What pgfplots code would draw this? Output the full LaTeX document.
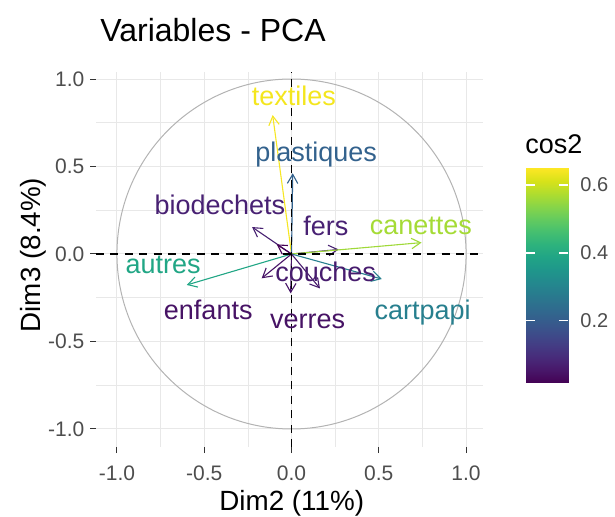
\documentclass[border=0pt]{standalone}
\usepackage{fontspec}
\setmainfont{Liberation Sans}
\usepackage{pgfplots}
\usepackage{pgfplotstable}
\pgfplotsset{compat=1.18}
\usepgfplotslibrary{colormaps}
\usetikzlibrary{arrows.meta,calc}
\definecolor{grey30}{RGB}{77,77,77}
\definecolor{grey20}{RGB}{51,51,51}
\definecolor{grey70}{RGB}{179,179,179}
\definecolor{gridc}{RGB}{232,232,232}
\definecolor{cTex}{HTML}{F4E61E}
\definecolor{cCan}{HTML}{A5DB36}
\definecolor{cAut}{HTML}{21A685}
\definecolor{cCar}{HTML}{277F8E}
\definecolor{cPla}{HTML}{33628D}
\definecolor{cBio}{HTML}{482173}
\definecolor{cFer}{HTML}{482173}
\definecolor{cCou}{HTML}{471C6E}
\definecolor{cVer}{HTML}{471365}
\definecolor{cEnf}{HTML}{471365}

\pgfplotstableread{
lab x y c o
textiles -0.108 0.794 0.642 0
plastiques 0.007 0.461 0.213 0
biodechets -0.226 0.154 0.075 0
fers 0.270 0.026 0.074 0
canettes 0.745 0.065 0.559 0
autres -0.600 -0.177 0.391 0
cartpapi 0.517 -0.143 0.288 0
enfants -0.171 -0.139 0.049 0
verres -0.005 -0.225 0.051 0
couches 0.163 -0.197 0.065 0
autre2 -0.085 0.055 0.010 0
}\arrtab

\pgfplotsset{lbl/.style={draw=none, mark=none, point meta=explicit symbolic, nodes near coords,
  nodes near coords style={anchor=base, inner sep=0pt, font=\fontsize{13.5}{16}\selectfont, text=#1}}}

\begin{document}
\begin{tikzpicture}
\useasboundingbox (0,0) rectangle (307.5pt,258pt);
\begin{axis}[
  at={(48pt,34.5pt)}, anchor=south west,
  scale only axis, width=193.5pt, height=187.5pt,
  xmin=-1.12, xmax=1.097, ymin=-1.103, ymax=1.04,
  xtick={-1,-0.5,0,0.5,1}, ytick={-1,-0.5,0,0.5,1},
  xticklabels={-1.0,-0.5,0.0,0.5,1.0}, yticklabels={-1.0,-0.5,0.0,0.5,1.0},
  minor xtick={-0.75,-0.25,0.25,0.75}, minor ytick={-0.75,-0.25,0.25,0.75},
  grid=both,
  major grid style={draw=gridc, line width=0.5pt},
  minor grid style={draw=gridc, line width=0.35pt},
  axis line style={draw=none},
  tick pos=left, tick align=outside,
  major tick length=3pt, minor tick length=0pt,
  tick style={draw=grey20, line width=0.5pt},
  ticklabel style={font=\fontsize{10.5}{12}\selectfont, text=grey30, inner sep=0pt},
  xticklabel style={anchor=base, yshift=-13.6pt},
  yticklabel style={anchor=east, xshift=-2.6pt},
  title={Variables - PCA},
  title style={at={(axis description cs:0.0103,1.081)}, anchor=base west, yshift=-6pt, inner sep=0pt, font=\fontsize{16}{19}\selectfont},
  xlabel={Dim2 (11\%)}, ylabel={Dim3 (8.4\%)},
  xlabel style={at={(axis description cs:0.5057,-0.170)}, anchor=base, inner sep=0pt, font=\fontsize{13.9}{16}\selectfont},
  ylabel style={at={(axis description cs:-0.1447,0.512)}, anchor=base, inner sep=0pt, font=\fontsize{13.9}{16}\selectfont},
  colormap/viridis,
  point meta min=0.018, point meta max=0.649,
]
\draw[grey70, line width=0.5pt] (axis cs:0,0) circle[radius=1];
\addplot[quiver={u=\thisrow{x}, v=\thisrow{y}, colored=mapped color},
  point meta=\thisrow{c}, line width=0.55pt,
  -{Straight Barb[length=4.5pt,width=5.2pt]}] table[x=o, y=o] {\arrtab};
\addplot[lbl=cTex] coordinates {(0.014,0.851) [textiles]};
\addplot[lbl=cPla] coordinates {(0.141,0.527) [plastiques]};
\addplot[lbl=cBio] coordinates {(-0.410,0.223) [biodechets]};
\addplot[lbl=cFer] coordinates {(0.197,0.103) [fers]};
\addplot[lbl=cCan] coordinates {(0.741,0.109) [canettes]};
\addplot[lbl=cAut] coordinates {(-0.736,-0.114) [autres]};
\addplot[lbl=cCou] coordinates {(0.195,-0.160) [couches]};
\addplot[lbl=cEnf] coordinates {(-0.477,-0.377) [enfants]};
\addplot[lbl=cVer] coordinates {(0.092,-0.425) [verres]};
\addplot[lbl=cCar] coordinates {(0.751,-0.377) [cartpapi]};
\addplot[black, line width=0.9pt, dash pattern=on 4pt off 3.2pt] coordinates {(-1.12,0) (1.097,0)};
\addplot[black, line width=0.9pt, dash pattern=on 4pt off 3.2pt] coordinates {(0,-1.103) (0,1.04)};
\end{axis}
\begin{axis}[
  at={(262.85pt,66.65pt)}, anchor=south west,
  scale only axis, width=21.3pt, height=107.2pt,
  xmin=0, xmax=1, ymin=0.018, ymax=0.649,
  enlargelimits=false, axis on top,
  axis line style={draw=none},
  xtick=\empty,
  ytick={0.2,0.4,0.6}, yticklabels={0.2,0.4,0.6},
  ytick pos=both, yticklabel pos=right, tick align=inside,
  major tick length=4.5pt, ytick style={draw=white, line width=0.6pt},
  yticklabel style={font=\fontsize{10}{12}\selectfont, text=grey30, anchor=west, inner sep=0pt, xshift=5.85pt},
  colormap/viridis, point meta min=0.018, point meta max=0.649,
]
\addplot[surf, shader=interp, point meta=y] table {
x y
0 0.018
1 0.018

0 0.1
1 0.1

0 0.2
1 0.2

0 0.3
1 0.3

0 0.4
1 0.4

0 0.5
1 0.5

0 0.6
1 0.6

0 0.649
1 0.649
};
\end{axis}
\node[anchor=base west, inner sep=0pt, font=\fontsize{13.5}{16}\selectfont] at (262.5pt,181.35pt) {cos2};
\end{tikzpicture}
\end{document}
